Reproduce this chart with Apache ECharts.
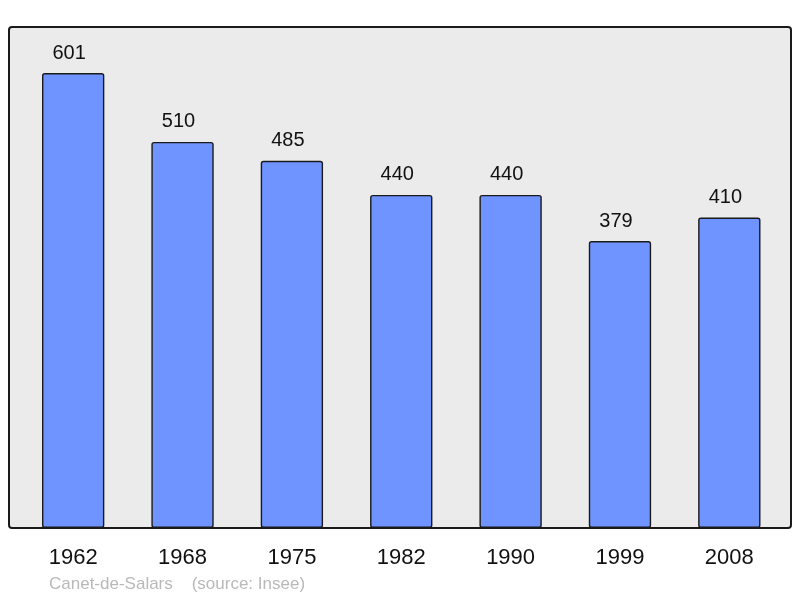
<!DOCTYPE html>
<html><head><meta charset="utf-8">
<script src="https://cdn.jsdelivr.net/npm/echarts@6/dist/echarts.min.js"></script>
<style>html,body{margin:0;padding:0;background:#fff}#c{width:800px;height:598px}</style>
</head><body><div id="c"></div>
<script>
var categories = ['1962','1968','1975','1982','1990','1999','2008'];
var population = [601, 510, 485, 440, 440, 379, 410];
var footer = 'Canet-de-Salars    (source: Insee)';

var chart = echarts.init(document.getElementById('c'), null, {renderer:'canvas'});
chart.setOption({
  animation:false,
  graphic:[
    {type:'rect', z:-10, shape:{x:9,y:27,width:782,height:501,r:3}, style:{fill:'#ebebeb',stroke:'#1a1a1a',lineWidth:2}},
    {type:'text', left:49, top:576, style:{text:footer, fill:'#b9b9b9', font:'17px "Liberation Sans", Arial, sans-serif'}}
  ],
  grid:{left:18.5, right:16, top:27, bottom:70},
  xAxis:{type:'category', data:categories,
    axisLine:{show:false}, axisTick:{show:false},
    axisLabel:{color:'#111', fontSize:22, fontFamily:'"Liberation Sans", Arial, sans-serif', margin:19}},
  yAxis:{type:'value', min:0, max:661.8, show:false, splitLine:{show:false}},
  series:[{type:'bar', data:population, barWidth:'57%',
    itemStyle:{color:'#7094ff', borderColor:'#1a1a1a', borderWidth:1.4, borderRadius:2},
    label:{show:true, position:'top', distance:10, offset:[-4,0], color:'#111', fontSize:20, fontFamily:'"Liberation Sans", Arial, sans-serif'}}]
});
</script></body></html>
